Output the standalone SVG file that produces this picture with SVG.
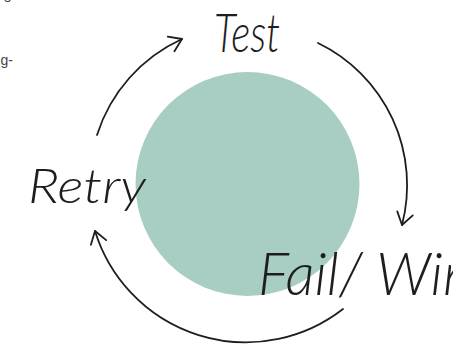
<svg xmlns="http://www.w3.org/2000/svg" width="453" height="345" viewBox="0 0 453 345">
<style>
.lbl{font-family:Lato,"Open Sans","Liberation Sans",sans-serif;font-style:italic;font-weight:300;fill:#1e1e1e;}
.frag{font-family:"Liberation Sans",Arial,sans-serif;font-size:14px;fill:#444;}
.arc{fill:none;stroke:#1e1e1e;stroke-width:1.8;stroke-linecap:round;}
</style>
<defs>
<marker id="ah" markerUnits="userSpaceOnUse" markerWidth="20" markerHeight="20" refX="14" refY="10" orient="auto" viewBox="0 0 20 20">
<path d="M2,2 L14,10 L2,18" fill="none" stroke="#1e1e1e" stroke-width="1.8" stroke-linecap="round" stroke-linejoin="round"/>
</marker>
</defs>
<rect width="453" height="345" fill="#ffffff"/>
<text class="frag" x="11" y="2" text-anchor="end">s</text>
<text class="frag" x="13" y="65" text-anchor="end">ng-</text>
<g id="center">
<circle cx="247.5" cy="184" r="112" fill="#a8cdc2"/>
</g>
<g id="connectors">
<path class="arc" d="M97,135 A158,158 0 0 1 182,39" marker-end="url(#ah)"/>
<path class="arc" d="M318,43 A158,158 0 0 1 402,225" marker-end="url(#ah)"/>
<path class="arc" d="M343,309 A158,158 0 0 1 95,231" marker-end="url(#ah)"/>
</g>
<g id="test">
<text class="lbl" x="214" y="52" font-size="54" textLength="66" lengthAdjust="spacingAndGlyphs">Test</text>
</g>
<g id="retry">
<text class="lbl" x="28" y="203" font-size="48" textLength="118" lengthAdjust="spacingAndGlyphs">Retry</text>
</g>
<g id="failwin">
<text class="lbl" x="258" y="295" font-size="60" textLength="215" lengthAdjust="spacingAndGlyphs">Fail/ Win</text>
</g>
</svg>
